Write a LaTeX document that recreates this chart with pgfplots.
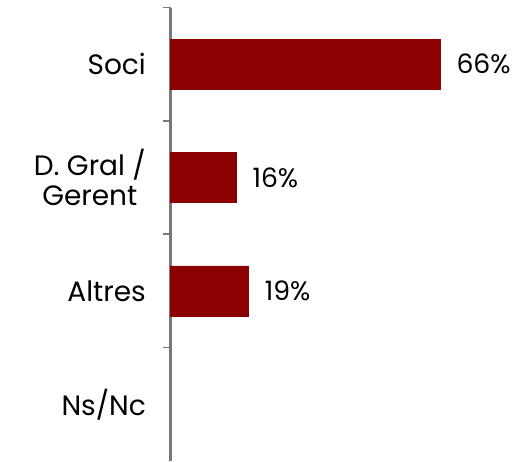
\documentclass[border=0pt]{standalone}
\usepackage{fontspec}
\setmainfont{Poppins}
\usepackage{pgfplots}
\pgfplotsset{compat=1.18}
\definecolor{barred}{RGB}{139,0,0}
\definecolor{axgray}{RGB}{120,120,120}
\begin{document}
\begin{tikzpicture}
\useasboundingbox (0,0) rectangle (397.5pt,345.75pt);
\begin{axis}[
  at={(127.9pt,0pt)}, anchor=south west,
  scale only axis,
  width=244.8pt, height=340.1pt,
  xbar, bar width=0.442,
  xmin=0, xmax=80,
  ymin=-0.5, ymax=3.5,
  hide x axis,
  axis y line*=left,
  y axis line style={draw=axgray, line width=1.6pt, -},
  ytick={0,1,2,3},
  yticklabels={Ns/Nc, Altres, {D. Gral /\\Gerent}, Soci},
  major tick length=0pt,
  minor ytick={0.5,1.5,2.5,3.5},
  minor tick length=6pt,
  tick align=outside,
  minor tick style={draw=axgray, line width=1.2pt},
  yticklabel style={font=\fontsize{21}{23}\selectfont, align=center, text=black},
  yticklabel shift=15pt,
  /pgf/number format/assume math mode=true,
  nodes near coords={\pgfmathprintnumber{\pgfplotspointmeta}\%},
  nodes near coords style={font=\fontsize{20}{23}\selectfont, anchor=west, xshift=9pt, text=black},
  point meta=x,
  clip=false,
]
\addplot[fill=barred, draw=barred] coordinates {(66,3) (16,2) (19,1)};
\end{axis}
\end{tikzpicture}
\end{document}
